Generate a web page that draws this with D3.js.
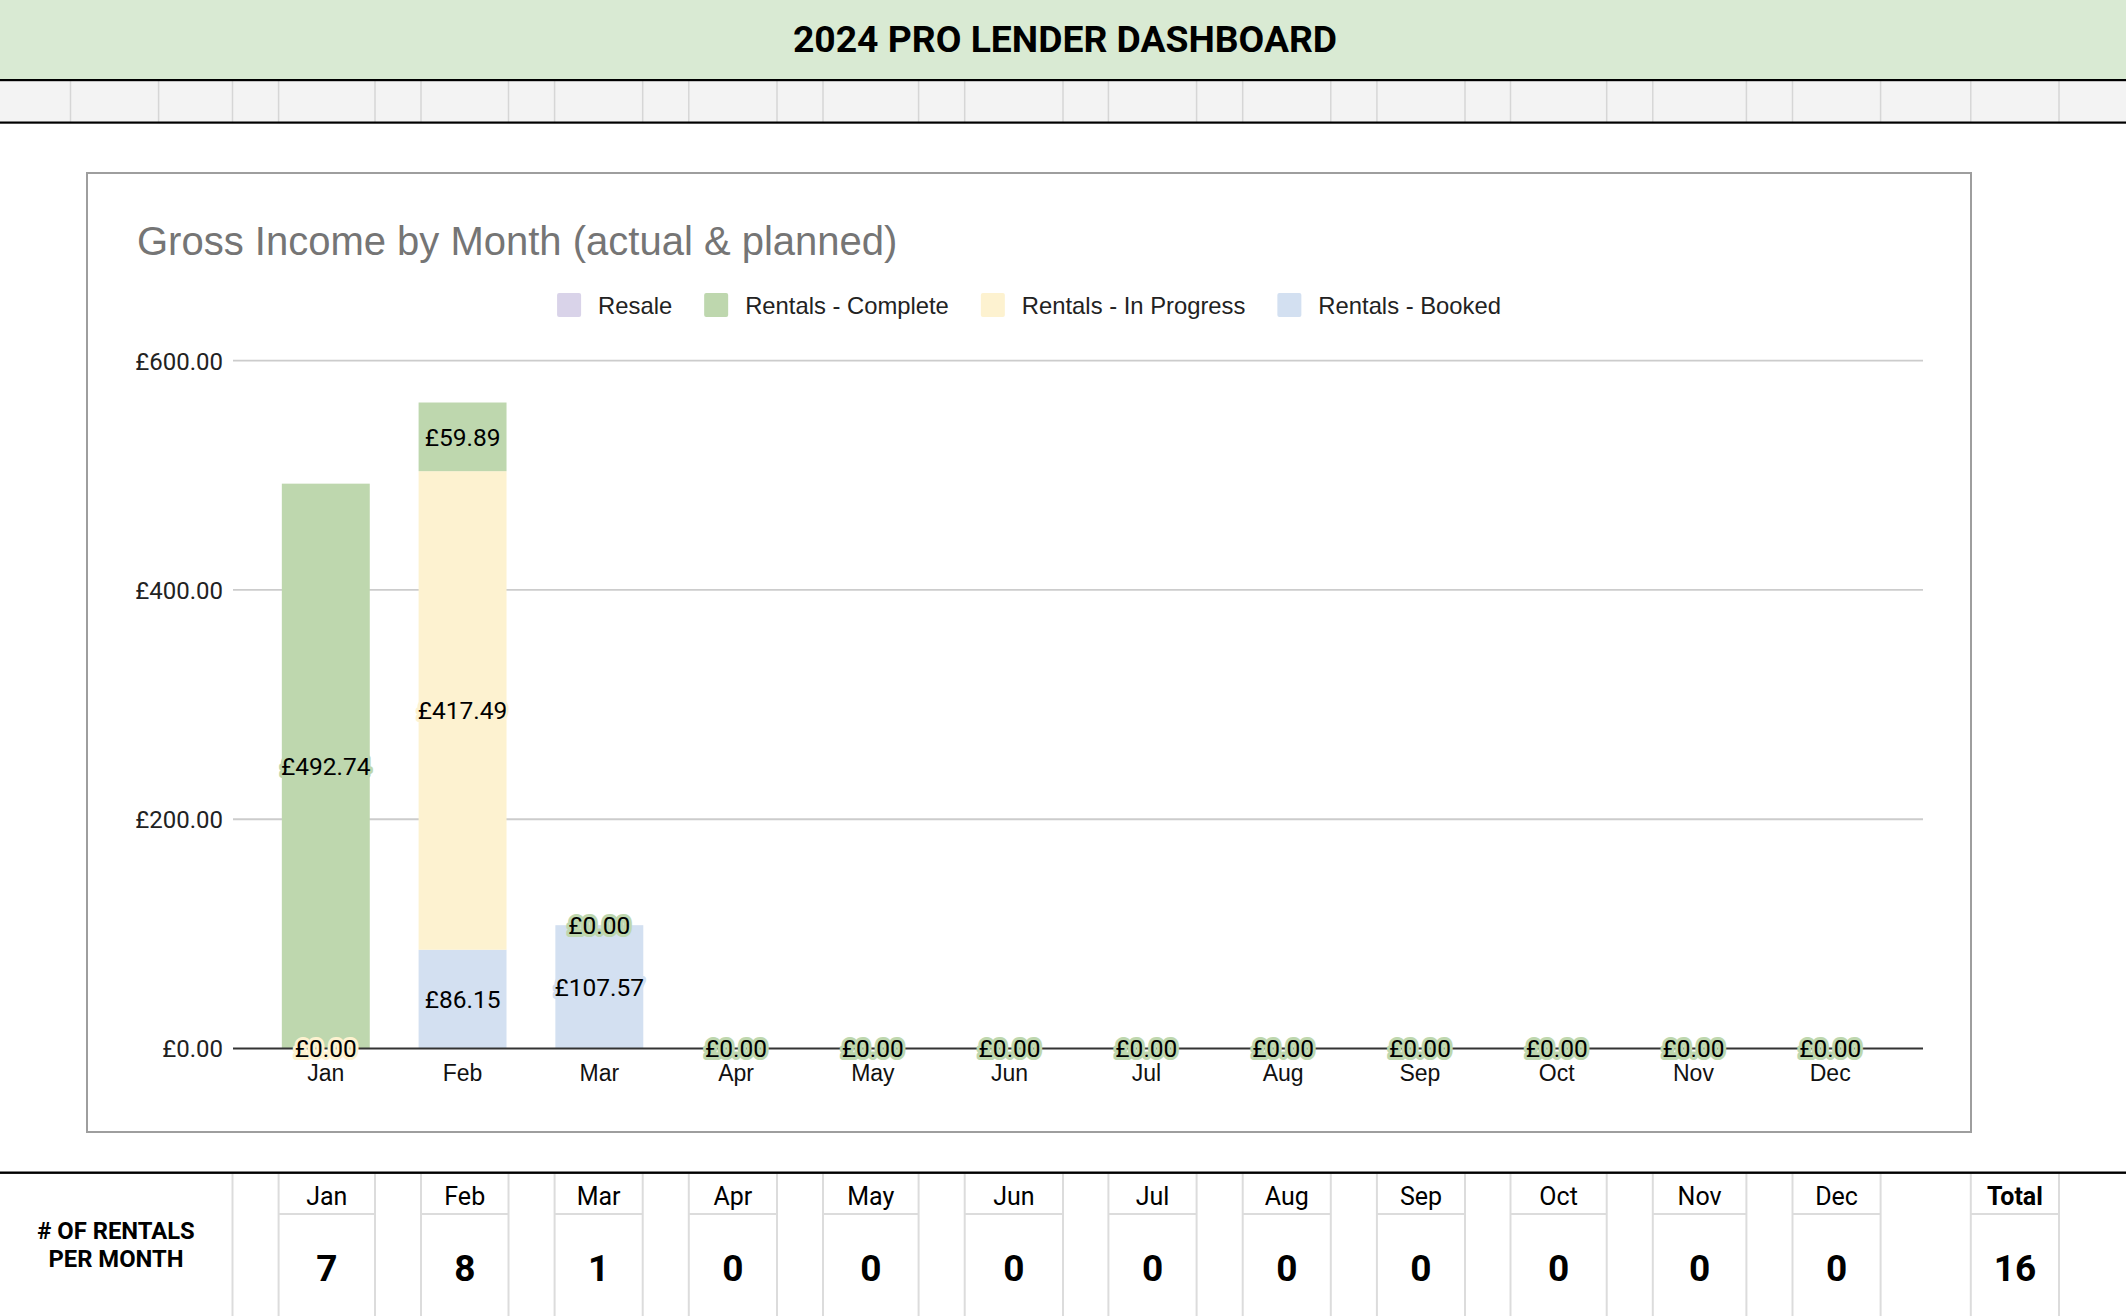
<!DOCTYPE html>
<html>
<head>
<meta charset="utf-8">
<script src="https://cdn.jsdelivr.net/npm/d3@7"></script>
<style>
  html, body { margin: 0; padding: 0; background: #fff; }
  svg { display: block; }
</style>
</head>
<body>
<svg id="chart" width="2126" height="1316"></svg>
<script>
// ---------------- DATA ----------------
const dashboardTitle = "2024 PRO LENDER DASHBOARD";
const chartTitle = "Gross Income by Month (actual & planned)";
const months = ["Jan","Feb","Mar","Apr","May","Jun","Jul","Aug","Sep","Oct","Nov","Dec"];
const seriesNames = ["Resale","Rentals - Complete","Rentals - In Progress","Rentals - Booked"];
const resale     = [null,null,null,null,null,null,null,null,null,null,null,null];
const complete   = [492.74, 59.89, 0, 0, 0, 0, 0, 0, 0, 0, 0, 0];
const inProgress = [0, 417.49, null, null, null, null, null, null, null, null, null, null];
const booked     = [null, 86.15, 107.57, null, null, null, null, null, null, null, null, null];
const yTicks = [0, 200, 400, 600];
const rentalCounts = [7, 8, 1, 0, 0, 0, 0, 0, 0, 0, 0, 0];
const rowLabel = ["# OF RENTALS", "PER MONTH"];
const totalLabel = "Total";

// ---------------- STYLE / LAYOUT ----------------
const colors = {
  "Resale": "#d9d3e9",
  "Rentals - Complete": "#bed7ae",
  "Rentals - In Progress": "#fdf2d0",
  "Rentals - Booked": "#d3e0f1"
};
const seriesData = {
  "Resale": resale,
  "Rentals - Complete": complete,
  "Rentals - In Progress": inProgress,
  "Rentals - Booked": booked
};
// sheet column edges (layout)
const colEdges = [70.5,158.6,232.5,278.6,375,421,508.5,554.6,642.7,688.8,777,823,918.6,964.7,1063,
                  1108.4,1196.6,1242.7,1330.8,1376.9,1465,1510.5,1606.7,1652.8,1746.4,1792.5,1880.6,1970.8,2059];
const monthCols = [[278.6,375],[421,508.5],[554.6,642.7],[688.8,777],[823,918.6],[964.7,1063],
                   [1108.4,1196.6],[1242.7,1330.8],[1376.9,1465],[1510.5,1606.7],[1652.8,1746.4],[1792.5,1880.6]];
const totalCol = [1970.8, 2059];

const W = 2126, H = 1316;
const svg = d3.select("#chart");
const ARIAL = "'Liberation Sans', Arial, sans-serif";
const ROBOTO = "Roboto, 'Liberation Sans', sans-serif";

// ---------- header ----------
svg.append("rect").attr("x",0).attr("y",0).attr("width",W).attr("height",80).attr("fill","#d9ead3");
svg.append("text").attr("x",1065).attr("y",52).attr("text-anchor","middle")
  .attr("font-family",ROBOTO).attr("font-weight",700).attr("font-size",37.3).attr("fill","#000")
  .text(dashboardTitle);
svg.append("rect").attr("x",0).attr("y",81).attr("width",W).attr("height",41).attr("fill","#f3f3f3");
svg.selectAll("line.grayrow").data(colEdges).join("line").attr("class","grayrow")
  .attr("x1",d=>d).attr("x2",d=>d).attr("y1",81).attr("y2",122)
  .attr("stroke","#d6d6d6").attr("stroke-width",1.5);
svg.append("rect").attr("x",0).attr("y",79).attr("width",W).attr("height",2.2).attr("fill","#000");
svg.append("rect").attr("x",0).attr("y",121.5).attr("width",W).attr("height",2.2).attr("fill","#000");

// ---------- chart box ----------
const box = {x: 87, y: 173, w: 1884, h: 959};
svg.append("rect").attr("x",box.x).attr("y",box.y).attr("width",box.w).attr("height",box.h)
  .attr("fill","#fff").attr("stroke","#9e9e9e").attr("stroke-width",2);

svg.append("text").attr("x",137).attr("y",255)
  .attr("font-family",ARIAL).attr("font-size",40).attr("fill","#757575")
  .text(chartTitle);

// legend
const legend = svg.append("g");
const legendItems = legend.selectAll("g").data(seriesNames).join("g");
legendItems.append("rect").attr("width",24).attr("height",24).attr("rx",2)
  .attr("fill",d=>colors[d]).attr("y",293);
legendItems.append("text").attr("x",41).attr("y",313.5)
  .attr("font-family",ARIAL).attr("font-size",23.8).attr("fill","#222").text(d=>d);
let lx = 0; const offs = [];
legendItems.each(function(d){
  offs.push(lx);
  const tw = d3.select(this).select("text").node().getComputedTextLength();
  lx += 41 + tw + 32;
});
const legendWidth = lx - 32;
const legendStart = (box.x + box.w/2) - legendWidth/2;
legendItems.attr("transform",(d,i)=>`translate(${legendStart+offs[i]},0)`);

// scales
const x = d3.scaleBand().domain(months).range([233, 1923]).paddingInner(0.357).paddingOuter(0.357);
const y = d3.scaleLinear().domain([0, 600]).range([1048.5, 360.7]);

// gridlines + y axis labels
const yAxis = d3.axisLeft(y).tickValues(yTicks).tickSize(0).tickPadding(10)
  .tickFormat(d => "£" + d3.format(",.2f")(d));
const gy = svg.append("g").attr("transform","translate(223,0)").call(yAxis);
gy.select(".domain").remove();
gy.selectAll("text").attr("font-family",ROBOTO).attr("font-size",24).attr("fill","#222")
  .attr("x",0).attr("dy","0.35em");
svg.append("g").selectAll("line").data(yTicks.filter(d=>d>0)).join("line")
  .attr("x1",233).attr("x2",1923).attr("y1",d=>y(d)).attr("y2",d=>y(d))
  .attr("stroke","#cccccc").attr("stroke-width",1.8);

// stacked data: bottom -> top: Booked, In Progress, Complete, Resale
const rows = months.map((m,i) => {
  const r = {month: m};
  seriesNames.forEach(s => r[s] = seriesData[s][i]);
  return r;
});
const stackOrder = ["Rentals - Booked","Rentals - In Progress","Rentals - Complete","Resale"];
const stacked = d3.stack().keys(stackOrder).value((d,k) => d[k] == null ? 0 : d[k])(rows);

const barsG = svg.append("g");
stacked.forEach(layer => {
  barsG.append("g").selectAll("rect").data(layer).join("rect")
    .attr("x", d => x(d.data.month))
    .attr("width", x.bandwidth())
    .attr("y", d => y(d[1]))
    .attr("height", d => y(d[0]) - y(d[1]))
    .attr("fill", colors[layer.key]);
});

// baseline axis
const xAxis = d3.axisBottom(x).tickSize(0).tickPadding(0);
const gx = svg.append("g").attr("transform",`translate(0,${y(0)})`).call(xAxis);
gx.select(".domain").attr("d", "M233,0H1923").attr("stroke","#333").attr("stroke-width",2.2);
gx.selectAll("text").attr("font-family",ARIAL).attr("font-size",23).attr("fill","#111")
  .attr("y",32).attr("dy",null);

// data labels drawn in legend order
const labelsG = svg.append("g");
const layerByKey = {};
stacked.forEach(l => layerByKey[l.key] = l);
seriesNames.forEach(s => {
  const layer = layerByKey[s];
  const pts = layer.filter(d => d.data[s] != null);
  labelsG.append("g").selectAll("text").data(pts).join("text")
    .attr("x", d => x(d.data.month) + x.bandwidth()/2)
    .attr("y", d => (y(d[0]) + y(d[1]))/2)
    .attr("dy","0.36em")
    .attr("text-anchor","middle")
    .attr("font-family",ROBOTO).attr("font-size",24.5)
    .attr("fill","#000")
    .attr("stroke", colors[s]).attr("stroke-width",6).attr("stroke-linejoin","round")
    .attr("paint-order","stroke")
    .text(d => "£" + d3.format(",.2f")(d.data[s]));
});

// ---------- bottom table ----------
svg.append("rect").attr("x",0).attr("y",1171.5).attr("width",W).attr("height",2.4).attr("fill","#000");
svg.append("g").selectAll("line").data(colEdges.filter(d=>d>200)).join("line")
  .attr("x1",d=>d).attr("x2",d=>d).attr("y1",1174).attr("y2",H)
  .attr("stroke","#dcdcdc").attr("stroke-width",2);
const headCols = monthCols.concat([totalCol]);
svg.append("g").selectAll("line").data(headCols).join("line")
  .attr("x1",d=>d[0]).attr("x2",d=>d[1]).attr("y1",1214).attr("y2",1214)
  .attr("stroke","#dcdcdc").attr("stroke-width",2);
svg.append("g").selectAll("text").data(months).join("text")
  .attr("x",(d,i)=>(monthCols[i][0]+monthCols[i][1])/2).attr("y",1205)
  .attr("text-anchor","middle").attr("font-family",ROBOTO).attr("font-size",25).attr("fill","#000")
  .text(d=>d);
svg.append("text").attr("x",(totalCol[0]+totalCol[1])/2).attr("y",1205)
  .attr("text-anchor","middle").attr("font-family",ROBOTO).attr("font-weight",700)
  .attr("font-size",25).attr("fill","#000").text(totalLabel);
svg.append("g").selectAll("text").data(rentalCounts).join("text")
  .attr("x",(d,i)=>(monthCols[i][0]+monthCols[i][1])/2).attr("y",1280.5)
  .attr("text-anchor","middle").attr("font-family",ROBOTO).attr("font-weight",700)
  .attr("font-size",37).attr("fill","#000").text(d=>d);
svg.append("text").attr("x",(totalCol[0]+totalCol[1])/2).attr("y",1280.5)
  .attr("text-anchor","middle").attr("font-family",ROBOTO).attr("font-weight",700)
  .attr("font-size",37).attr("fill","#000").text(d3.sum(rentalCounts));
svg.append("g").selectAll("text").data(rowLabel).join("text")
  .attr("x",116).attr("y",(d,i)=>1239 + i*28)
  .attr("text-anchor","middle").attr("font-family",ROBOTO).attr("font-weight",700)
  .attr("font-size",23.8).attr("fill","#000").text(d=>d);
</script>
</body>
</html>
